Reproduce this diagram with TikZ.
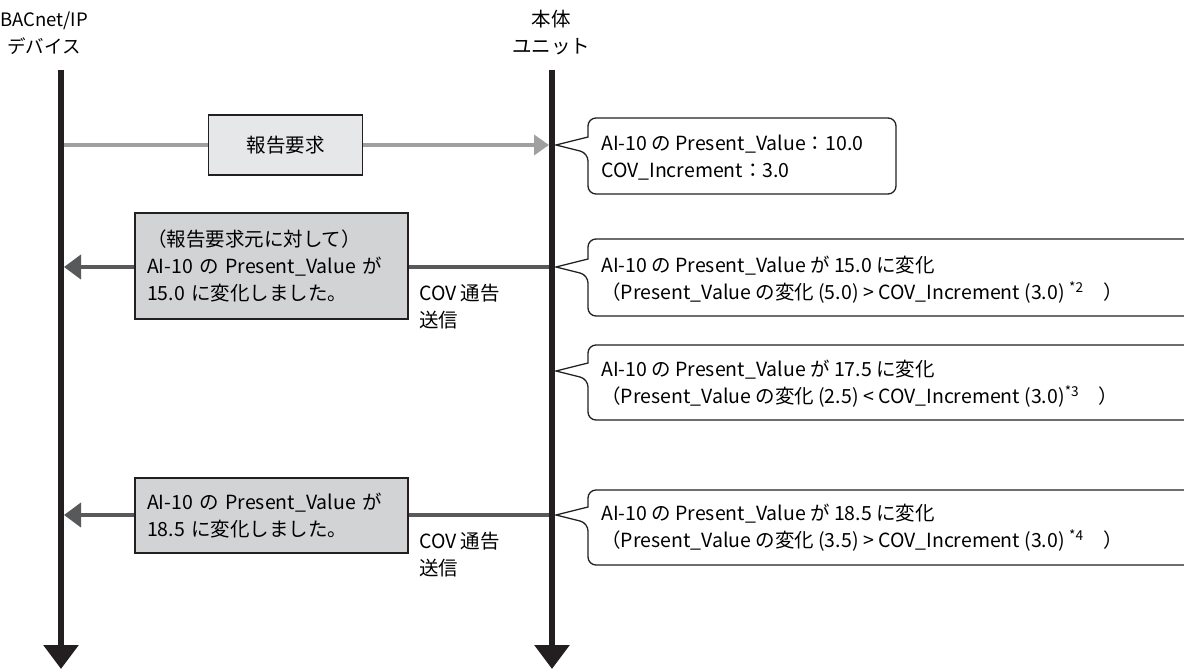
\documentclass[tikz,border=0pt]{standalone}
\usepackage{fontspec}
\setmainfont{Noto Sans CJK JP}
\usetikzlibrary{arrows.meta}
\definecolor{lifeclr}{HTML}{231F20}
\definecolor{reqgray}{HTML}{A0A0A0}
\definecolor{covgray}{HTML}{58595B}
\definecolor{boxfill}{HTML}{D1D3D4}
\definecolor{reqfill}{HTML}{E6E7E8}
\newcommand\mycallout[4]{%
  \draw[calloutline] (588,#1-8) [rounded corners=8pt] -- (588,#2) -- (#4,#2) -- (#4,#3) -- (588,#3) -- (588,#1+8) [sharp corners] -- (556,#1) -- cycle;}
\begin{document}
\begin{tikzpicture}[x=1pt,y=-1pt,
  font=\fontsize{19.5}{27}\selectfont,
  lifeline/.style={draw=lifeclr, line width=6pt, -{Triangle[length=24pt,width=34pt]}},
  reqarrow/.style={draw=reqgray, line width=4pt, -{Triangle[length=15pt,width=20pt]}},
  covarrow/.style={draw=covgray, line width=4pt, -{Triangle[length=17pt,width=24pt]}},
  msgbox/.style={draw=lifeclr, line width=1.3pt, fill=boxfill, align=left, text width=249pt, inner xsep=12pt, inner ysep=0pt, minimum width=273pt},
  reqbox/.style={draw=lifeclr, line width=1.3pt, fill=reqfill, minimum width=154pt, minimum height=60pt, inner sep=0pt},
  calloutline/.style={draw=lifeclr, line width=1.3pt, fill=white},
  ctext/.style={anchor=west, align=left, inner sep=0pt},
  hdr/.style={align=center, inner sep=0pt},
  lbl/.style={anchor=west, align=left, inner sep=0pt}]
\useasboundingbox (0,0) rectangle (1184,669);
% headers
\node[hdr, font=\fontsize{18.5}{27}\selectfont] (hdev) at (44,33) {BACnet/IP\\デバイス};
\node[hdr] (hunit) at (551,33) {本体\\ユニット};
% lifeline coordinates
\coordinate (dtop) at (61,70);
\coordinate (dbot) at (61,669);
\coordinate (utop) at (552,70);
\coordinate (ubot) at (552,669);
\coordinate (dreq) at (64,145);
\coordinate (ureq) at (549,145);
\coordinate (dcov1) at (64,267);
\coordinate (ucov1) at (549,267);
\coordinate (dcov2) at (64,515);
\coordinate (ucov2) at (549,515);
% lifelines
\draw[lifeline] (dtop) -- (dbot);
\draw[lifeline] (utop) -- (ubot);
% messages
\draw[reqarrow] (dreq) -- (ureq);
\node[reqbox] (req) at (285.5,145) {報告要求};
\draw[covarrow] (ucov1) -- (dcov1);
\node[msgbox, minimum height=106pt] (m1) at (271.5,266) {（報告要求元に対して）\\AI-10 の Present\_Value が\\15.0 に変化しました。};
\draw[covarrow] (ucov2) -- (dcov2);
\node[msgbox, minimum height=75pt] (m2) at (271.5,515.5) {AI-10 の Present\_Value が\\18.5 に変化しました。};
\node[lbl] (l1) at (419,307) {COV 通告\\送信};
\node[lbl] (l2) at (419,555) {COV 通告\\送信};
% callouts
\mycallout{145}{118}{194}{896}
\node[ctext] (c1) at (601,158) {AI-10 の Present\_Value：10.0\\COV\_Increment：3.0};
\mycallout{267}{239}{316}{1195}
\node[ctext] (c2) at (601,280) {AI-10 の Present\_Value が 15.0 に変化\\（Present\_Value の変化 (5.0) > COV\_Increment (3.0) \textsuperscript{*2}\quad ）};
\mycallout{371}{345}{420}{1195}
\node[ctext] (c3) at (601,384) {AI-10 の Present\_Value が 17.5 に変化\\（Present\_Value の変化 (2.5) < COV\_Increment (3.0)\textsuperscript{*3}\quad ）};
\mycallout{515}{490}{565}{1195}
\node[ctext] (c4) at (601,528) {AI-10 の Present\_Value が 18.5 に変化\\（Present\_Value の変化 (3.5) > COV\_Increment (3.0) \textsuperscript{*4}\quad ）};
\end{tikzpicture}
\end{document}
